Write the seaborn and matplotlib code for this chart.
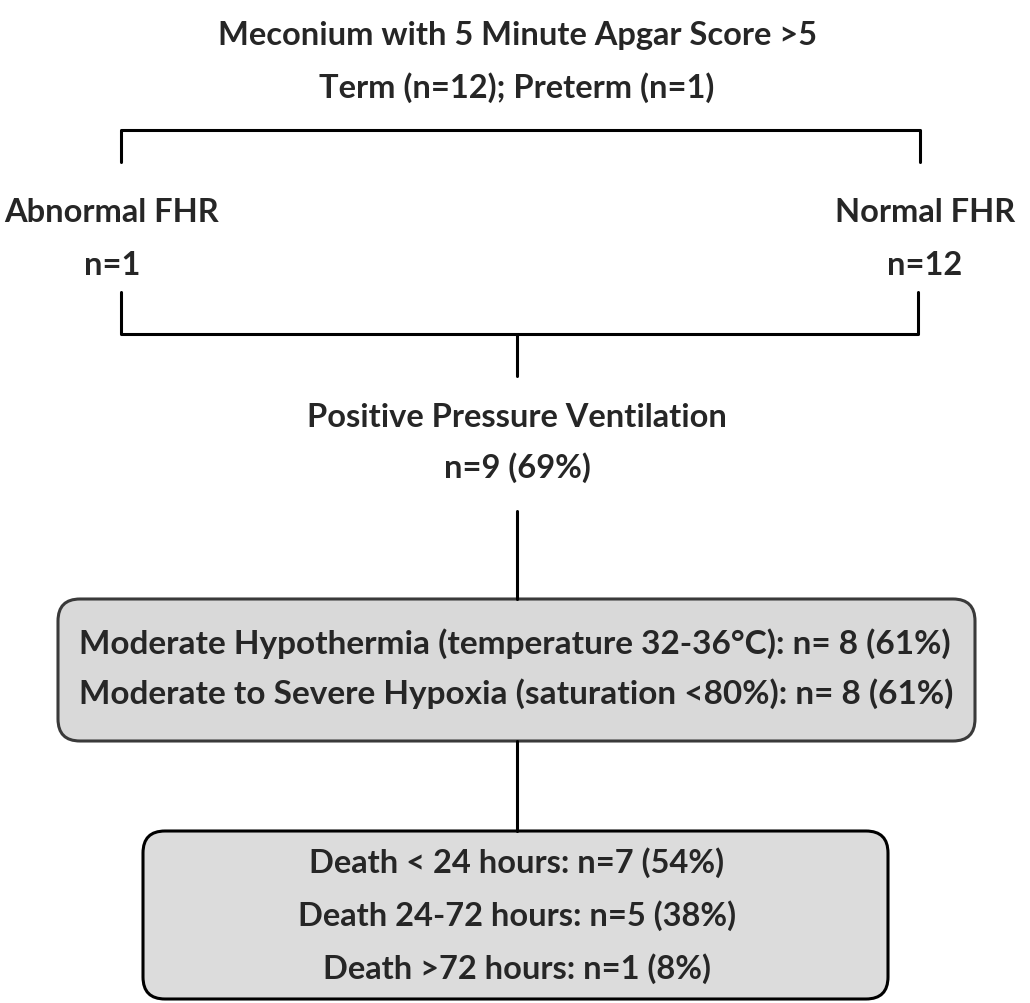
import matplotlib
matplotlib.use("Agg")
import matplotlib.pyplot as plt
import seaborn as sns
from matplotlib.patches import FancyBboxPatch

sns.set_theme(style="white")
plt.rcParams['font.family'] = ['Lato', 'DejaVu Sans']

# flowchart content
title_lines = ["Meconium with 5 Minute Apgar Score >5", "Term (n=12); Preterm (n=1)"]
fhr_groups = ["Abnormal FHR", "Normal FHR"]
fhr_counts = ["n=1", "n=12"]
ppv_lines = ["Positive Pressure Ventilation", "n=9 (69%)"]
cond_lines = ["Moderate Hypothermia (temperature 32-36°C): n= 8 (61%)",
              "Moderate to Severe Hypoxia (saturation <80%): n= 8 (61%)"]
death_lines = ["Death < 24 hours: n=7 (54%)",
               "Death 24-72 hours: n=5 (38%)",
               "Death >72 hours: n=1 (8%)"]

fig, ax = plt.subplots(figsize=(10.3, 10.04), dpi=100)
fig.subplots_adjust(0, 0, 1, 1)
ax.set_xlim(0, 1030)
ax.set_ylim(1004, 0)
ax.axis("off")

fs = 23.5
fw = "bold"
lw = 2.2
cx = 517

# title
for i, t in enumerate(title_lines):
    ax.text(cx, 36 + 52 * i, t, ha="center", va="center", fontsize=fs, fontweight=fw)

# upper bracket
ax.plot([121, 121, 920, 920], [163, 131, 131, 163], color="black", lw=lw)

# FHR groups
for xc, g, n in zip([112, 925], fhr_groups, fhr_counts):
    ax.text(xc, 213, g, ha="center", va="center", fontsize=fs, fontweight=fw)
    ax.text(xc, 266, n, ha="center", va="center", fontsize=fs, fontweight=fw)

# lower bracket
ax.plot([121, 121, 918, 918], [293, 335, 335, 293], color="black", lw=lw)
ax.plot([cx, cx], [335, 377], color="black", lw=lw)

# PPV
for i, t in enumerate(ppv_lines):
    ax.text(cx, 418 + 50 * i, t, ha="center", va="center", fontsize=fs, fontweight=fw)
ax.plot([cx, cx], [512, 600], color="black", lw=lw)

# conditions box
box1 = FancyBboxPatch((58, 600), 917, 142, boxstyle="round,pad=0,rounding_size=22",
                      facecolor="#d9d9d9", edgecolor="#3a3a3a", lw=lw)
ax.add_patch(box1)
for i, t in enumerate(cond_lines):
    ax.text(79, 644 + 50 * i, t, ha="left", va="center", fontsize=24, fontweight=fw)
ax.plot([cx, cx], [742, 832], color="black", lw=lw)

# death box
box2 = FancyBboxPatch((143, 832), 745, 168, boxstyle="round,pad=0,rounding_size=22",
                      facecolor="#dcdcdc", edgecolor="black", lw=lw)
ax.add_patch(box2)
for i, t in enumerate(death_lines):
    ax.text(cx, 863 + 53 * i, t, ha="center", va="center", fontsize=fs, fontweight=fw)

fig.savefig("out.png", dpi=100, facecolor="white")
